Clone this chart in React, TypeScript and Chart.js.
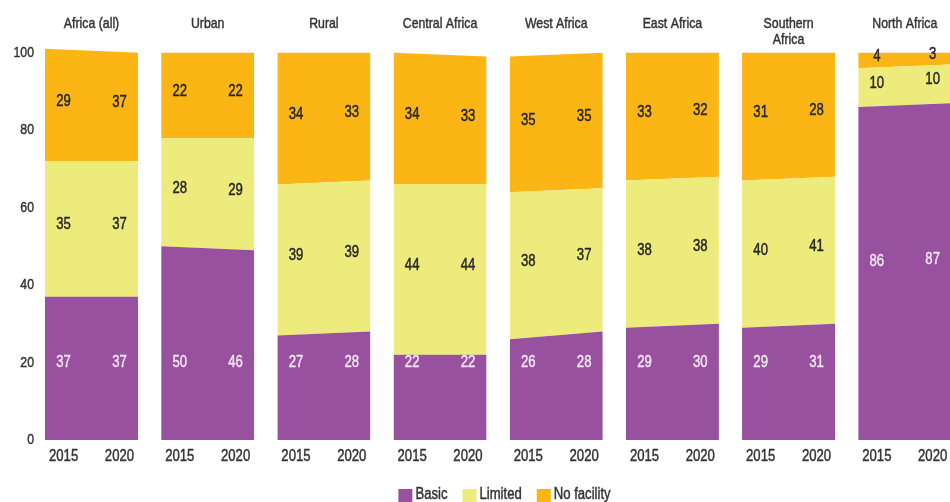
import React, { useEffect, useRef } from "react";
import { Chart, registerables } from "chart.js";

Chart.register(...registerables);

// ---- Data ----
const regions = [
  "Africa (all)",
  "Urban",
  "Rural",
  "Central Africa",
  "West Africa",
  "East Africa",
  "Southern\nAfrica",
  "North Africa",
];
const years = ["2015", "2020"];
const seriesNames = ["Basic", "Limited", "No facility"];
const yTickValues = [0, 20, 40, 60, 80, 100];

// drawn shares (read from the shape heights)
const basic2015 = [37, 50, 27, 22, 26, 29, 29, 86];
const basic2020 = [37, 49, 28, 22, 28, 30, 30, 87];
const limited2015 = [35, 28, 39, 44, 38, 38, 38, 10];
const limited2020 = [35, 29, 39, 44, 37, 38, 38, 10];
const noFacility2015 = [29, 22, 34, 34, 35, 33, 33, 4];
const noFacility2020 = [28, 22, 33, 33, 35, 32, 32, 3];

// printed labels
const basicLabels2015 = [37, 50, 27, 22, 26, 29, 29, 86];
const basicLabels2020 = [37, 46, 28, 22, 28, 30, 31, 87];
const limitedLabels2015 = [35, 28, 39, 44, 38, 38, 40, 10];
const limitedLabels2020 = [37, 29, 39, 44, 37, 38, 41, 10];
const noFacilityLabels2015 = [29, 22, 34, 34, 35, 33, 31, 4];
const noFacilityLabels2020 = [37, 22, 33, 33, 35, 32, 28, 3];

// ---- Style ----
const COLORS = ["#97519E", "#EEEB7D", "#FBB515"];
const FONT = '"Liberation Sans", Arial, sans-serif';
const NARROW = 0.82; // horizontal squeeze to mimic a condensed face
const TEXT = "#333333";
const PANEL_W = 0.801; // panel width relative to panel pitch
const YEAR_POS = [0.2, 0.8];

const values = [
  [basic2015, basic2020],
  [limited2015, limited2020],
  [noFacility2015, noFacility2020],
];
const labels = [
  [basicLabels2015, basicLabels2020],
  [limitedLabels2015, limitedLabels2020],
  [noFacilityLabels2015, noFacilityLabels2020],
];

function cumulative(i: number, yearIdx: number, s: number) {
  let sum = 0;
  for (let k = 0; k <= s; k++) sum += values[k][yearIdx][i];
  return sum;
}

function narrowText(ctx: CanvasRenderingContext2D, t: string, x: number, y: number) {
  ctx.save();
  ctx.scale(NARROW, 1);
  ctx.strokeStyle = ctx.fillStyle;
  ctx.lineWidth = 0.45;
  ctx.fillText(t, x / NARROW, y);
  ctx.strokeText(t, x / NARROW, y);
  ctx.restore();
}

const overlayPlugin = {
  id: "overlay",
  afterDraw(chart: any) {
    const ctx: CanvasRenderingContext2D = chart.ctx;
    const xs = chart.scales.x;
    const ys = chart.scales.y;
    ctx.save();
    ctx.textBaseline = "middle";

    // y-axis tick labels (from the scale's ticks)
    ctx.font = `15px ${FONT}`;
    ctx.fillStyle = TEXT;
    ctx.textAlign = "right";
    ys.ticks.forEach((t: any) => {
      narrowText(ctx, String(t.value), 34, ys.getPixelForValue(t.value));
    });

    // x-axis tick labels (years)
    ctx.font = `16px ${FONT}`;
    ctx.textAlign = "center";
    xs.ticks.forEach((t: any, idx: number) => {
      narrowText(ctx, years[idx % 2], xs.getPixelForValue(t.value), 457);
    });

    // panel titles
    ctx.font = `15px ${FONT}`;
    regions.forEach((r, i) => {
      const cx = xs.getPixelForValue(i + PANEL_W / 2);
      r.split("\n").forEach((ln, li) => narrowText(ctx, ln, cx, 24 + li * 16));
    });

    // value labels
    ctx.font = `16px ${FONT}`;
    regions.forEach((_, i) => {
      years.forEach((__, j) => {
        const px = xs.getPixelForValue(i + YEAR_POS[j] * PANEL_W);
        for (let s = 0; s < 3; s++) {
          const top = cumulative(i, j, s);
          const bottom = s === 0 ? 0 : cumulative(i, j, s - 1);
          let level = (top + bottom) / 2 + 1;
          if (s === 0) level = top > 60 ? top / 2 + 3 : 20;
          ctx.fillStyle = s === 0 ? "rgba(250,238,250,0.9)" : "#262626";
          narrowText(ctx, String(labels[s][j][i]), px, ys.getPixelForValue(level));
        }
      });
    });

    // legend
    ctx.font = `16px ${FONT}`;
    const box = 14;
    const gap = 3;
    const itemGap = 15;
    const widths = seriesNames.map((n) => ctx.measureText(n).width * NARROW);
    const total =
      widths.reduce((a, w) => a + box + gap + w, 0) + itemGap * (seriesNames.length - 1);
    let x = 504.5 - total / 2;
    ctx.textAlign = "left";
    seriesNames.forEach((n, k) => {
      ctx.fillStyle = COLORS[k];
      ctx.fillRect(x, 489, box, 13);
      ctx.fillStyle = TEXT;
      narrowText(ctx, n, x + box + gap, 495);
      x += box + gap + widths[k] + itemGap;
    });
    ctx.restore();
  },
};

export default function App() {
  const ref = useRef<HTMLCanvasElement | null>(null);
  useEffect(() => {
    document.body.style.margin = "0";
    if (!ref.current) return;
    const datasets: any[] = [];
    regions.forEach((_, i) => {
      for (let s = 0; s < 3; s++) {
        datasets.push({
          label: seriesNames[s],
          data: [
            { x: i, y: cumulative(i, 0, s) },
            { x: i + PANEL_W, y: cumulative(i, 1, s) },
          ],
          fill: s === 0 ? "origin" : "-1",
          backgroundColor: COLORS[s],
          borderColor: COLORS[s],
          borderWidth: 0,
          pointRadius: 0,
          tension: 0,
        });
      }
    });
    const chart = new Chart(ref.current, {
      type: "line",
      data: { datasets },
      options: {
        responsive: false,
        animation: false,
        layout: { padding: { top: 45, bottom: 32, left: 0, right: 0 } },
        plugins: { legend: { display: false }, tooltip: { enabled: false } },
        scales: {
          x: {
            type: "linear",
            min: 0,
            max: 7.79,
            grid: { display: false, drawTicks: false },
            border: { display: false },
            ticks: { display: false, autoSkip: false },
            afterBuildTicks: (scale: any) => {
              scale.ticks = regions.flatMap((__, i) =>
                YEAR_POS.map((p) => ({ value: i + p * PANEL_W }))
              );
            },
            afterFit: (scale: any) => {
              scale.height = 30;
              scale.paddingLeft = 0;
              scale.paddingRight = 0;
            },
          },
          y: {
            min: 0,
            max: 102,
            grid: { display: false, drawTicks: false },
            border: { display: false },
            ticks: { display: false },
            afterBuildTicks: (scale: any) => {
              scale.ticks = yTickValues.map((v) => ({ value: v }));
            },
            afterFit: (scale: any) => {
              scale.width = 45;
              scale.paddingTop = 0;
              scale.paddingBottom = 0;
            },
          },
        },
      },
      plugins: [overlayPlugin],
    });
    return () => chart.destroy();
  }, []);
  return (
    <div style={{ width: 950, height: 502 }}>
      <canvas ref={ref} width={950} height={502} />
    </div>
  );
}
